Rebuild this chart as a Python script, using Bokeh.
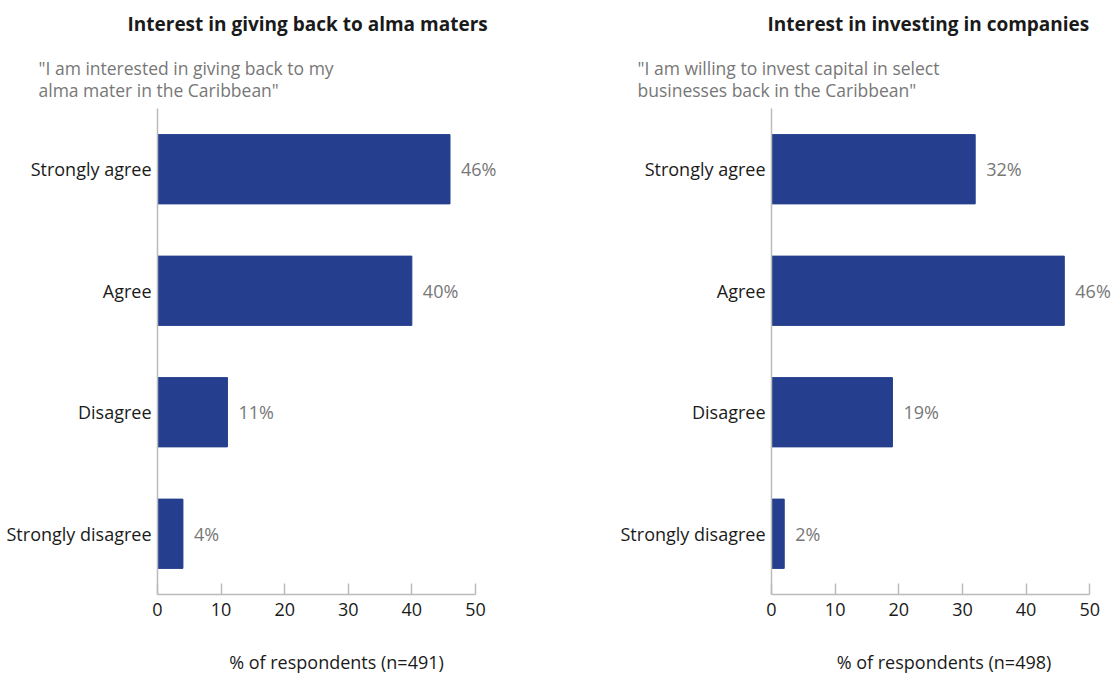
from bokeh.plotting import figure
from bokeh.layouts import row
from bokeh.models import ColumnDataSource, Title, FactorRange, Range1d, FixedTicker
from bokeh.embed import file_html
from bokeh.resources import INLINE
from bokeh.core.properties import value

categories = ["Strongly agree", "Agree", "Disagree", "Strongly disagree"]
alma_values = [46, 40, 11, 4]
invest_values = [32, 46, 19, 2]
x_ticks = [0, 10, 20, 30, 40, 50]

alma_title = "Interest in giving back to alma maters"
alma_sub = ['"I am interested in giving back to my', 'alma mater in the Caribbean"']
alma_xlabel = "% of respondents (n=491)"
invest_title = "Interest in investing in companies"
invest_sub = ['"I am willing to invest capital in select', 'businesses back in the Caribbean"']
invest_xlabel = "% of respondents (n=498)"

FONT = "Open Sans"
BAR = "#253F8E"
GRAY = "#777777"
AXIS = "#BBBBBB"
TXT = "#1a1a1a"
FS = "18px"
H = 676


def make_panel(title, sub, xlabel, vals, width, left, right, x_end, title_off, sub_off):
    labels = [f"{v}%" for v in vals]
    src = ColumnDataSource(dict(cat=categories, val=vals, lab=labels))
    p = figure(width=width, height=H, y_range=FactorRange(*reversed(categories)),
               x_range=Range1d(0, x_end), output_backend="svg", toolbar_location=None,
               title=None, min_border_left=left, min_border_right=right,
               min_border_top=0, min_border_bottom=0, outline_line_color=None)
    p.hbar(y="cat", right="val", left=0, height=0.57, source=src, color=BAR)
    p.text(x="val", y="cat", text="lab", source=src, x_offset=11, text_baseline="middle",
           text_align="left", text_font_size=FS, text_color=GRAY, text_font=value(FONT))
    p.grid.visible = False
    p.add_layout(Title(text="\n".join(sub), align="left", offset=sub_off,
                       text_font=FONT, text_font_size="17.5px", text_font_style="normal",
                       text_color=GRAY, text_line_height=0.93, vertical_align="bottom",
                       standoff=12), "above")
    p.add_layout(Title(text=title, align="left", offset=title_off,
                       text_font=FONT, text_font_size="19px", text_font_style="bold",
                       text_color=TXT, vertical_align="top", standoff=20), "above")
    xa = p.xaxis[0]
    xa.ticker = FixedTicker(ticks=x_ticks)
    xa.bounds = (0, 50)
    xa.major_tick_in = 11
    xa.major_tick_out = 0
    xa.minor_tick_line_color = None
    xa.axis_line_color = AXIS
    xa.major_tick_line_color = AXIS
    xa.axis_line_width = 1.5
    xa.major_tick_line_width = 1.5
    xa.major_label_text_font = FONT
    xa.major_label_text_font_size = FS
    xa.major_label_text_color = TXT
    xa.major_label_standoff = 8
    xa.axis_label = xlabel
    xa.axis_label_text_font = FONT
    xa.axis_label_text_font_size = FS
    xa.axis_label_text_font_style = "normal"
    xa.axis_label_text_color = TXT
    xa.axis_label_standoff = 31
    ya = p.yaxis[0]
    ya.major_tick_line_color = None
    ya.minor_tick_line_color = None
    ya.axis_line_color = AXIS
    ya.axis_line_width = 1.5
    ya.major_label_text_font = FONT
    ya.major_label_text_font_size = FS
    ya.major_label_text_color = TXT
    ya.major_label_standoff = 0
    return p


p1 = make_panel(alma_title, alma_sub, alma_xlabel, alma_values, 562, 157, 47, 56.3, -30, -119)
p2 = make_panel(invest_title, invest_sub, invest_xlabel, invest_values, 554, 209, 0, 54.2, -4, -134)
layout = row(p1, p2)
open("out.html", "w").write(file_html(layout, INLINE))
